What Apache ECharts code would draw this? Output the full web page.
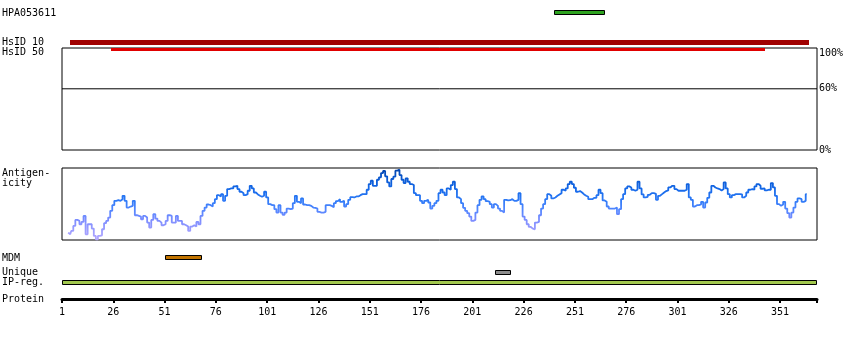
<!DOCTYPE html>
<html>
<head>
<meta charset="utf-8">
<script src="https://cdn.jsdelivr.net/npm/echarts@6/dist/echarts.min.js"></script>
<style>
html,body{margin:0;padding:0;background:#fff;}
#chart{width:850px;height:340px;}
</style>
</head>
<body>
<div id="chart"></div>
<script>
// ---------------- data ----------------
const proteinLength = 369;
const tickLabels = [1, 26, 51, 76, 101, 126, 151, 176, 201, 226, 251, 276, 301, 326, 351];
const hpaRegion = [241, 266];
const hsid10Region = [5, 365];
const hsid50Region = [25, 344];
const mdmRegion = [51, 69];
const uniqueRegion = [212, 220];
const ipRegRegion = [1, 369];
const identityLevels = [0, 60, 100];
const identityRefLevel = 60;
const antigenStart = 4;
const antigenicity = [
  10.2, 7.9, 12.6, 19.5, 27.9, 26.5, 21.9, 25.1, 33.5, 7.9,
  21.9, 21.9, 15.8, 5.6, 0.9, 5.6, 6.5, 14.9, 23.3, 26.5,
  31.2, 40.5, 48.4, 54.4, 55.3, 54.4, 56.7, 61.4, 54.4, 45.1,
  46.5, 47.4, 54.4, 34.4, 33.5, 32.6, 28.8, 33.5, 31.2, 24.2,
  17.2, 27.9, 35.8, 29.8, 26.5, 24.2, 20.5, 21.9, 26.5, 34.4,
  33.5, 24.2, 24.2, 33.5, 26.5, 26.5, 21.9, 20.5, 18.6, 12.6,
  18.6, 20.5, 18.6, 25.1, 21.9, 33.5, 40.5, 45.1, 49.3, 48.4,
  46.5, 51.2, 56.7, 62.3, 60.5, 63.7, 54.4, 61.4, 70.7, 71.6,
  71.6, 74.4, 75.3, 70.7, 67.0, 65.1, 62.3, 63.7, 68.4, 75.3,
  71.6, 66.0, 63.3, 61.4, 60.0, 61.4, 67.0, 59.1, 49.8, 48.4,
  48.4, 42.8, 38.1, 48.4, 38.1, 34.9, 38.1, 43.7, 42.8, 43.7,
  51.2, 61.4, 53.0, 51.2, 57.7, 49.3, 48.4, 48.4, 47.4, 45.1,
  44.7, 43.7, 39.1, 38.1, 38.1, 39.1, 48.4, 48.4, 47.4, 45.6,
  51.2, 54.0, 56.7, 53.0, 54.4, 46.5, 49.8, 55.8, 59.5, 59.1,
  60.5, 60.5, 62.3, 63.7, 63.7, 63.7, 69.8, 77.7, 82.3, 75.3,
  75.3, 83.7, 87.0, 93.0, 95.8, 88.4, 80.0, 74.4, 84.7, 87.9,
  96.3, 97.7, 90.2, 83.7, 79.1, 85.6, 80.9, 77.7, 76.3, 65.1,
  62.3, 62.3, 54.4, 51.2, 54.4, 55.8, 52.1, 43.7, 47.4, 51.2,
  54.4, 65.1, 69.8, 66.0, 62.3, 71.6, 69.8, 76.3, 80.9, 70.7,
  59.1, 56.7, 51.2, 44.7, 40.5, 37.2, 32.6, 26.5, 27.9, 38.1,
  48.4, 55.8, 60.5, 56.7, 53.9, 53.0, 49.8, 45.1, 49.8, 47.4,
  43.7, 40.5, 38.1, 55.8, 54.9, 55.3, 56.7, 54.4, 54.4, 55.8,
  65.1, 49.8, 32.6, 27.9, 21.9, 18.1, 15.8, 14.9, 24.2, 25.1,
  34.4, 43.7, 49.8, 56.7, 63.7, 61.4, 57.7, 59.1, 61.4, 63.3,
  65.1, 69.8, 68.4, 71.6, 77.7, 80.9, 77.7, 72.6, 67.0, 67.9,
  66.0, 63.3, 61.4, 60.0, 56.7, 56.7, 58.6, 58.6, 62.3, 69.8,
  65.1, 54.9, 53.0, 46.5, 43.7, 43.7, 43.7, 45.1, 35.8, 42.8,
  56.7, 63.7, 71.6, 74.4, 73.0, 69.8, 68.4, 69.8, 80.9, 71.6,
  63.3, 59.1, 60.0, 62.8, 65.1, 65.1, 64.2, 55.8, 61.4, 63.7,
  66.0, 67.9, 68.8, 73.0, 75.3, 75.3, 70.7, 68.4, 68.4, 68.4,
  68.4, 69.8, 77.7, 59.1, 55.8, 46.5, 48.4, 48.4, 49.3, 53.0,
  45.1, 52.1, 58.6, 66.0, 75.3, 73.0, 71.6, 70.7, 68.8, 70.7,
  80.0, 71.6, 63.7, 59.1, 62.3, 63.7, 63.7, 63.7, 63.3, 59.1,
  61.4, 66.0, 69.8, 70.7, 69.8, 74.4, 77.7, 75.3, 71.2, 71.6,
  68.8, 69.8, 69.8, 79.1, 73.0, 61.4, 49.8, 47.4, 49.3, 53.0,
  43.7, 37.2, 31.2, 38.1, 45.1, 53.0, 57.7, 56.7, 53.0, 54.4, 63.7
];

// ---------------- layout & styles ----------------
const FONT = '"DejaVu Sans Mono", "Liberation Mono", monospace';
const LEFT = 62, WIDTH = 755;

const grids = [
  { top: 10, height: 5 },    // 0 HPA
  { top: 40, height: 5 },    // 1 HsID 10
  { top: 48, height: 3 },    // 2 HsID 50
  { top: 48, height: 102 },  // 3 identity box
  { top: 168, height: 72 },  // 4 antigenicity
  { top: 255, height: 5 },   // 5 MDM
  { top: 270, height: 5 },   // 6 Unique
  { top: 280, height: 5 },   // 7 IP-reg
  { top: 298, height: 1 }    // 8 protein axis
];

const tracks = [
  { grid: 0, region: hpaRegion, fill: '#2ea320', stroke: '#000' },
  { grid: 1, region: hsid10Region, fill: '#a00000', stroke: null },
  { grid: 2, region: hsid50Region, fill: '#e00000', stroke: null },
  { grid: 5, region: mdmRegion, fill: '#c27400', stroke: '#000' },
  { grid: 6, region: uniqueRegion, fill: '#8c8c8c', stroke: '#000' },
  { grid: 7, region: ipRegRegion, fill: '#a2c84e', stroke: '#000' }
];

function makeTrackSeries(t) {
  return {
    type: 'custom',
    xAxisIndex: t.grid, yAxisIndex: t.grid,
    silent: true, z: 5,
    data: [[t.region[0], t.region[1]]],
    renderItem: function (params, api) {
      const s = api.coord([api.value(0), 0]);
      const e = api.coord([api.value(1), 0]);
      const cs = params.coordSys;
      if (t.stroke) {
        return { type: 'rect',
          shape: { x: Math.round(s[0]) + 0.5, y: cs.y + 0.5, width: Math.round(e[0] - s[0]) - 1, height: cs.height - 1 },
          style: { fill: t.fill, stroke: t.stroke, lineWidth: 1 } };
      }
      return { type: 'rect',
        shape: { x: Math.round(s[0]), y: cs.y, width: Math.round(e[0] - s[0]), height: cs.height },
        style: { fill: t.fill } };
    }
  };
}

const gridOpts = grids.map((g, i) => ({
  left: LEFT, width: WIDTH, top: g.top, height: g.height,
  show: (i === 3 || i === 4), borderColor: '#000', borderWidth: 1, backgroundColor: 'transparent'
}));

const xAxes = grids.map((g, i) => {
  const base = { type: 'value', gridIndex: i, min: 1, max: proteinLength, show: false };
  if (i === 8) {
    return Object.assign(base, {
      show: true, position: 'bottom',
      axisLine: { show: true, lineStyle: { color: '#000', width: 3 } },
      axisTick: { show: true, length: 4, lineStyle: { color: '#000', width: 2 },
                  customValues: tickLabels.concat([proteinLength]) },
      axisLabel: { show: true, customValues: tickLabels, margin: 8,
                   fontFamily: FONT, fontSize: 10, color: '#000' },
      splitLine: { show: false }
    });
  }
  return base;
});

const yAxes = grids.map((g, i) => {
  const base = { type: 'value', gridIndex: i, min: 0, max: (i === 3 || i === 4) ? 100 : 1, show: false };
  if (i === 3) {
    return Object.assign(base, {
      show: true, position: 'right',
      axisLine: { show: false }, axisTick: { show: false }, splitLine: { show: false },
      axisLabel: { show: true, customValues: identityLevels, margin: 2,
                   formatter: v => v + '%', fontFamily: FONT, fontSize: 10, color: '#000',
                   verticalAlignMaxLabel: 'top' }
    });
  }
  return base;
});

const antigenData = antigenicity.map((v, i) => [antigenStart + i, v]);

const series = tracks.map(makeTrackSeries);
series.push({
  type: 'line', xAxisIndex: 3, yAxisIndex: 3, silent: true,
  data: [[1, identityRefLevel], [proteinLength, identityRefLevel]],
  symbol: 'none', lineStyle: { color: '#000', width: 1 }
});
const antigenSeriesIndex = series.length;
series.push({
  type: 'line', xAxisIndex: 4, yAxisIndex: 4, silent: true,
  data: antigenData, showSymbol: false, symbol: 'none', step: 'middle',
  lineStyle: { width: 1.8 }
});

function label(text, y) {
  return { type: 'text', x: 2, y: y, silent: true,
           style: { text: text, font: '10px ' + FONT, fill: '#000', verticalAlign: 'middle' } };
}

const option = {
  animation: false,
  backgroundColor: '#fff',
  grid: gridOpts,
  xAxis: xAxes,
  yAxis: yAxes,
  visualMap: {
    type: 'continuous', show: false, seriesIndex: antigenSeriesIndex, dimension: 1,
    min: 0, max: 100,
    inRange: { color: ['#b4a8ff', '#9a9cff', '#7a8cff', '#4f86ff', '#2a78f5', '#1468e8', '#0a58d0', '#0040a8'] }
  },
  graphic: [
    label('HPA053611', 13),
    label('HsID 10', 42),
    label('HsID 50', 52),
    label('Antigen-', 173),
    label('icity', 183),
    label('MDM', 258),
    label('Unique', 272),
    label('IP-reg.', 282),
    label('Protein', 299)
  ],
  series: series
};

const chart = echarts.init(document.getElementById('chart'), null, { renderer: 'canvas' });
chart.setOption(option);
</script>
</body>
</html>
